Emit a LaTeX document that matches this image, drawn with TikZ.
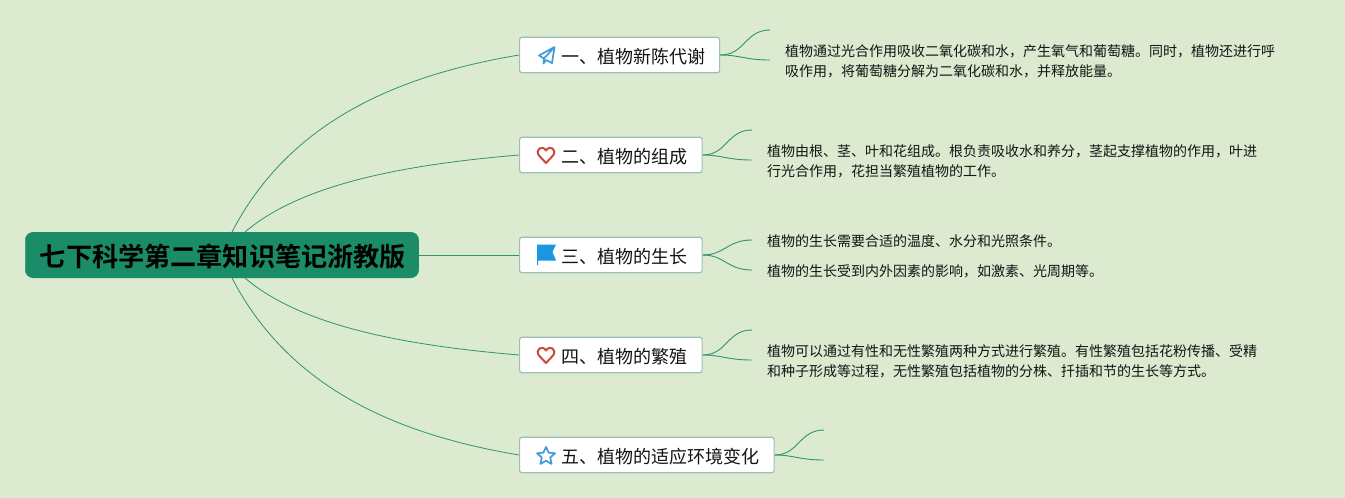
\documentclass[tikz,border=0pt]{standalone}
\usepackage{fontspec}
\setmainfont{Noto Sans CJK SC}
\newfontfamily\cjkbold{Noto Sans CJK SC Bold}
\definecolor{bgc}{HTML}{DCEAD0}
\definecolor{rootc}{HTML}{1B8C68}
\definecolor{linec}{HTML}{2F9270}
\definecolor{boxline}{HTML}{9DC0B4}
\definecolor{iconblue}{HTML}{3E9BDC}
\definecolor{flagblue}{HTML}{1B96E0}
\definecolor{heartred}{HTML}{CC4A3C}
\definecolor{txt}{HTML}{141414}
\tikzset{
  rootbox/.style={draw=rootc,fill=rootc,rounded corners=8pt,minimum width=393.5pt,minimum height=45.6pt,inner sep=0pt,text=black},
  roottext/.style={font=\cjkbold\fontsize{26.15}{30}\selectfont,text=black,inner sep=0pt},
  topicbox/.style={draw=boxline,line width=1.2pt,fill=white,rounded corners=2.5pt,minimum height=35.6pt,inner sep=0pt,anchor=west,text=txt},
  topictext/.style={font=\fontsize{18}{22}\selectfont,text=txt,inner sep=0pt,anchor=west},
  detail/.style={font=\fontsize{14}{20}\selectfont,text=txt,inner sep=0pt,anchor=north west,align=left},
  link/.style={draw=linec,line width=0.8pt},
  sublink/.style={draw=linec,line width=0.9pt},
  iconline/.style={line width=1.7pt,line join=round,line cap=round}
}
\begin{document}
\begin{tikzpicture}[x=1pt,y=-1pt]
\useasboundingbox (0,0) rectangle (1345,498);
\fill[bgc] (0,0) rectangle (1345,498);

\node[rootbox] (root) at (222,255) {};
\node[roottext] (rootlabel) at (223,257) {七下科学第二章知识笔记浙教版};

\node[topicbox,minimum width=200pt] (t1) at (519,55) {};
\node[topicbox,minimum width=182.5pt] (t2) at (519,155) {};
\node[topicbox,minimum width=182.5pt] (t3) at (519,255) {};
\node[topicbox,minimum width=182.5pt] (t4) at (519,355) {};
\node[topicbox,minimum width=254.5pt] (t5) at (519,455) {};

\node[topictext] (l1) at (561,56.5) {一、植物新陈代谢};
\node[topictext] (l2) at (561,156.5) {二、植物的组成};
\node[topictext] (l3) at (561,256.5) {三、植物的生长};
\node[topictext] (l4) at (561,356.5) {四、植物的繁殖};
\node[topictext] (l5) at (561,456.5) {五、植物的适应环境变化};

\coordinate (ra) at (232,232);
\coordinate (rb) at (245,232);
\coordinate (rc) at (232,278);
\coordinate (rd) at (245,278);
\draw[link] (ra) .. controls (290,120) and (400,75) .. (t1.west);
\draw[link] (rb) .. controls (300,185) and (400,165) .. (t2.west);
\draw[link] (root.east) -- (t3.west);
\draw[link] (rd) .. controls (300,325) and (400,345) .. (t4.west);
\draw[link] (rc) .. controls (290,390) and (400,435) .. (t5.west);

\node[detail] (d1) at (785,44.3) {植物通过光合作用吸收二氧化碳和水，产生氧气和葡萄糖。同时，植物还进行呼\\吸作用，将葡萄糖分解为二氧化碳和水，并释放能量。};
\node[detail] (d2) at (767,144) {植物由根、茎、叶和花组成。根负责吸收水和养分，茎起支撑植物的作用，叶进\\行光合作用，花担当繁殖植物的工作。};
\node[detail] (d3a) at (767,234) {植物的生长需要合适的温度、水分和光照条件。};
\node[detail] (d3b) at (767,264) {植物的生长受到内外因素的影响，如激素、光周期等。};
\node[detail] (d4) at (767,344) {植物可以通过有性和无性繁殖两种方式进行繁殖。有性繁殖包括花粉传播、受精\\和种子形成等过程，无性繁殖包括植物的分株、扦插和节的生长等方式。};

\coordinate (e1a) at (770,30);
\coordinate (e1b) at (770,60);
\coordinate (e2a) at (752,130);
\coordinate (e2b) at (752,160);
\coordinate (e3a) at (752,240);
\coordinate (e3b) at (752,270);
\coordinate (e4a) at (752,330);
\coordinate (e4b) at (752,360);
\coordinate (e5a) at (824,430);
\coordinate (e5b) at (824,460);

\draw[sublink] (t1.east) .. controls (745,55) and (745,30) .. (e1a);
\draw[sublink] (t1.east) .. controls (740,55) and (745,60) .. (e1b);
\draw[sublink] (t2.east) .. controls (727,155) and (727,130) .. (e2a);
\draw[sublink] (t2.east) .. controls (722,155) and (727,160) .. (e2b);
\draw[sublink] (t3.east) .. controls (725,255) and (727,240) .. (e3a);
\draw[sublink] (t3.east) .. controls (725,255) and (727,270) .. (e3b);
\draw[sublink] (t4.east) .. controls (727,355) and (727,330) .. (e4a);
\draw[sublink] (t4.east) .. controls (722,355) and (727,360) .. (e4b);
\draw[sublink] (t5.east) .. controls (799,455) and (799,430) .. (e5a);
\draw[sublink] (t5.east) .. controls (794,455) and (799,460) .. (e5b);

% paper plane
\draw[iconblue,iconline] (554.5,47) -- (539,55.5) -- (544,58.5) -- (554.5,47) -- (552,63) -- (546,60) -- (543.5,63.5) -- (544,58.5);
% hearts
\foreach \cy in {155,355}{
  \draw[heartred,line width=2pt,line join=round] (546,\cy+8) -- (539,\cy+0.5) .. controls (534.5,\cy-5.5) and (542.5,\cy-10.5) .. (546,\cy-4.5) .. controls (549.5,\cy-10.5) and (557.5,\cy-5.5) .. (553,\cy+0.5) -- cycle;
}
% flag
\fill[flagblue] (537,244.5) -- (556,244.5) -- (552.5,252) -- (556,260.5) -- (538,260.5) -- (538,265) -- (537,265) -- cycle;
% star
\draw[iconblue,iconline] (546,447) -- (548.6,452.6) -- (555,453.3) -- (550.2,457.5) -- (551.6,464) -- (546,460.7) -- (540.4,464) -- (541.8,457.5) -- (537,453.3) -- (543.4,452.6) -- cycle;
\end{tikzpicture}
\end{document}
